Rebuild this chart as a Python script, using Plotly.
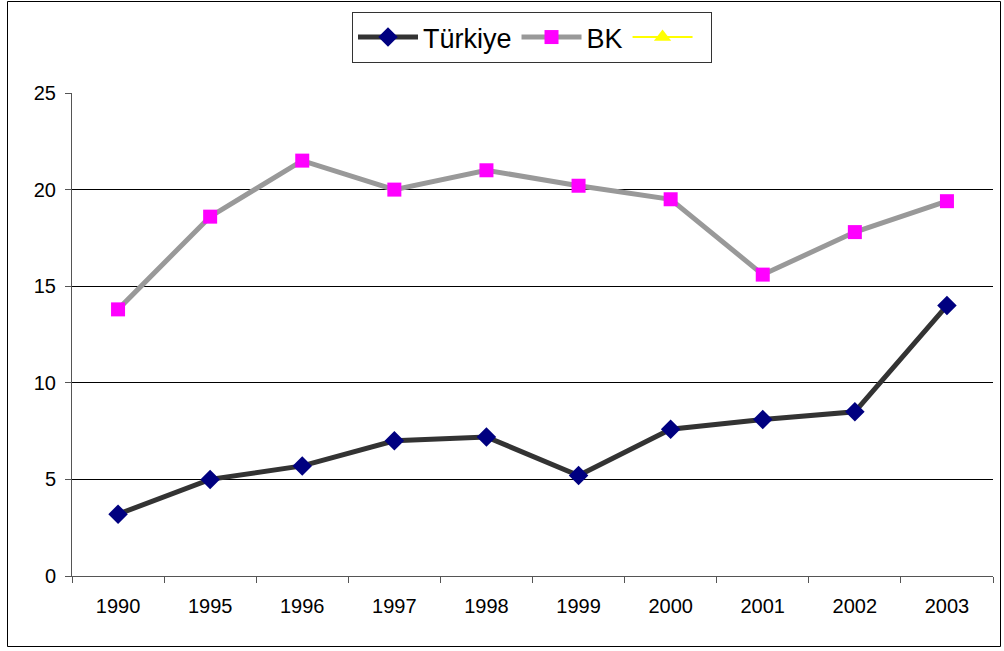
import plotly.graph_objects as go

years = ["1990", "1995", "1996", "1997", "1998", "1999", "2000", "2001", "2002", "2003"]
turkiye = [3.2, 5.0, 5.7, 7.0, 7.2, 5.2, 7.6, 8.1, 8.5, 14.0]
bk = [13.8, 18.6, 21.5, 20.0, 21.0, 20.2, 19.5, 15.6, 17.8, 19.4]
y_ticks = [0, 5, 10, 15, 20, 25]

W, H = 1004, 651
L, R, T, B = 72, 11, 93, 75
pw, ph = W - L - R, H - T - B

fig = go.Figure()
fig.add_trace(go.Scatter(x=years, y=turkiye, name="Türkiye", mode="lines+markers",
                         line=dict(color="#333333", width=5),
                         marker=dict(symbol="diamond", color="#000080", size=15)))
fig.add_trace(go.Scatter(x=years, y=bk, name="BK", mode="lines+markers",
                         line=dict(color="#999999", width=5),
                         marker=dict(symbol="square", color="#FF00FF", size=14)))
fig.add_trace(go.Scatter(x=[None], y=[None], name=" ", mode="lines+markers",
                         line=dict(color="#FFFF00", width=2),
                         marker=dict(symbol="triangle-up", color="#FFFF00", size=15)))

def px_x(px):
    return (px - L) / pw

def px_y(py):
    return 1 - (py - T) / ph

fig.add_shape(type="rect", xref="paper", yref="paper",
              x0=px_x(7.5), x1=px_x(1000.5), y0=px_y(646.5), y1=px_y(1.5),
              line=dict(color="black", width=1), fillcolor="rgba(0,0,0,0)", layer="below")

fig.update_layout(
    width=W, height=H,
    margin=dict(l=L, r=R, t=T, b=B),
    paper_bgcolor="white", plot_bgcolor="white",
    font=dict(family="Arial, Liberation Sans, sans-serif", color="black", size=20),
    showlegend=True,
    legend=dict(orientation="h", xref="container", yref="container",
                x=352 / W, y=1 - 12 / H, xanchor="left", yanchor="top",
                bordercolor="#333333", borderwidth=1, bgcolor="white",
                font=dict(size=27), itemwidth=60, tracegroupgap=0),
    xaxis=dict(type="category", tickson="boundaries", ticks="outside", ticklen=6,
               tickcolor="#555555", showline=True, linecolor="#555555", linewidth=1,
               showgrid=False, range=[-0.5, 9.5], tickfont=dict(size=20),
               ticklabelstandoff=12, fixedrange=True),
    yaxis=dict(range=[0, 25], tickvals=y_ticks, ticks="outside", ticklen=6,
               tickcolor="#555555", showline=True, linecolor="#555555", linewidth=1,
               showgrid=True, gridcolor="black", gridwidth=1, zeroline=False,
               tickfont=dict(size=20), ticklabelstandoff=5, fixedrange=True),
)

fig.write_html("out.html", config={"displayModeBar": False},
               post_script="document.body.style.margin='0';document.body.style.overflow='hidden';")
